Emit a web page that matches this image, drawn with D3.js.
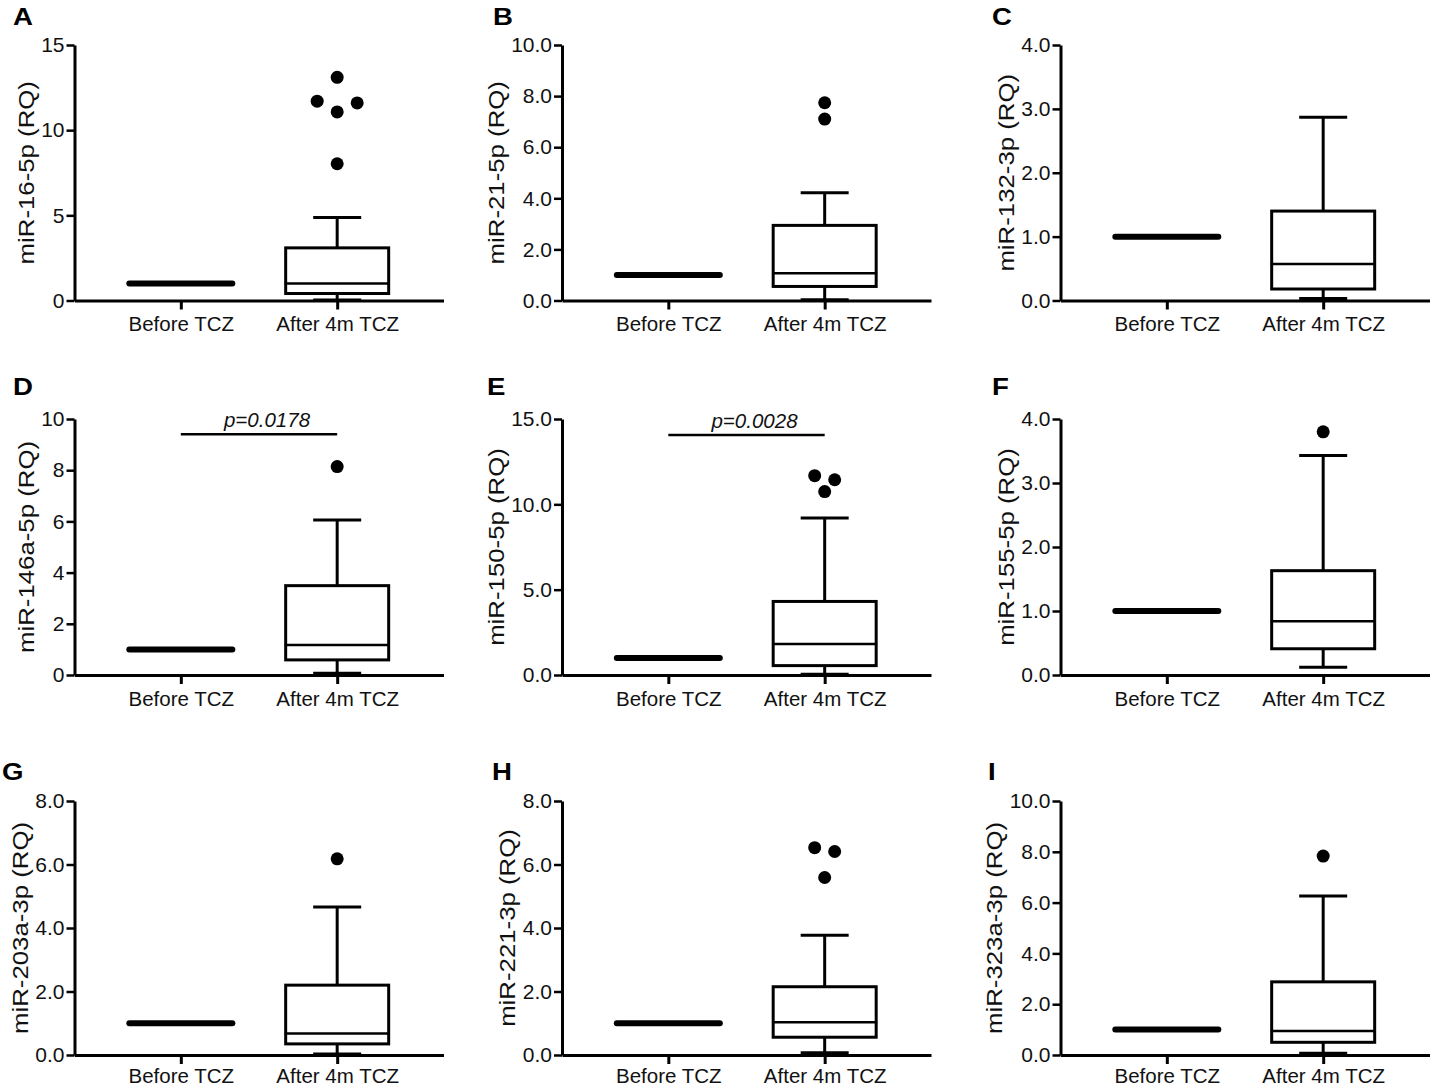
<!DOCTYPE html>
<html lang="en">
<head>
<meta charset="UTF-8">
<script src="https://cdn.jsdelivr.net/npm/d3@7"></script>
<title>miRNA RQ before and after TCZ</title>
<style>
    html, body {
        margin: 0px;
        padding: 0px;
        background-color: #ffffff;
    }
    svg {
        display: block;
        font-family: "Liberation Sans", Arial, sans-serif;
    }
</style>
</head>
<body>
<svg id="chart" width="1430" height="1087"></svg>
<script>
    const groups = ['Before TCZ', 'After 4m TCZ'];
    const panelLetters = ['A', 'B', 'C', 'D', 'E', 'F', 'G', 'H', 'I'];
    const mirNames = ['miR-16-5p', 'miR-21-5p', 'miR-132-3p', 'miR-146a-5p', 'miR-150-5p',
        'miR-155-5p', 'miR-203a-3p', 'miR-221-3p', 'miR-323a-3p'];
    const yMax = [15, 10, 4, 10, 15, 4, 8, 8, 10];
    const yStep = [5, 2, 1, 2, 5, 1, 2, 2, 2];
    const yDecimals = [0, 1, 1, 0, 1, 1, 1, 1, 1];

    // before TCZ is the calibrator, so every sample sits at RQ = 1
    const beforeRQ = [1, 1, 1, 1, 1, 1, 1, 1, 1];

    // after 4m TCZ, Tukey boxes
    const afterLow    = [0.03, 0.03, 0.03, 0.07, 0.05, 0.12, 0.03, 0.07, 0.07];
    const afterQ1     = [0.41, 0.55, 0.18, 0.59, 0.55, 0.41, 0.35, 0.56, 0.50];
    const afterMedian = [1.00, 1.07, 0.57, 1.17, 1.81, 0.84, 0.68, 1.03, 0.94];
    const afterQ3     = [3.09, 2.94, 1.40, 3.49, 4.31, 1.63, 2.20, 2.15, 2.88];
    const afterHigh   = [4.88, 4.22, 2.87, 6.05, 9.20, 3.43, 4.66, 3.77, 6.26];
    const afterOutliers = [
        [13.1, 11.7, 11.6, 11.07, 8.03],
        [7.74, 7.10],
        [],
        [8.14],
        [11.68, 11.44, 10.75],
        [3.80],
        [6.18],
        [6.53, 6.41, 5.59],
        [7.83]
    ];
    const pLabels = [null, null, null, 'p=0.0178', 'p=0.0028', null, null, null, null];
    const pBarAt  = [null, null, null, 9.4, 14.06, null, null, null, null];

    // grid layout
    const colAxisX = [74.5, 562, 1060.5];
    const rowTop = [45, 419, 801];
    const rowZero = [300.5, 675, 1055];
    const rowLabelPad = [7, 7, 4];
    const xAxisLen = 369;
    const letterX = [13, 493, 992, 13, 487, 992, 2, 492, 988];
    const letterY = [25, 395, 780];

    const boxW = 103, capW = 48, dotR = 6.5;

    const svg = d3.select('#chart');

    // spread outliers that share a row sideways (lowest right, next left)
    function swarm(values, y) {
        const sorted = values.slice().sort((a, b) => a - b);
        const placed = [];
        let i = 0;
        while (i < sorted.length) {
            const row = [sorted[i]];
            while (i + row.length < sorted.length &&
                   Math.abs(y(sorted[i + row.length]) - y(row[0])) < 6) {
                row.push(sorted[i + row.length]);
            }
            const pattern = row.length === 1 ? [0] :
                row.length === 2 ? [0.5, -0.5] : [0, 1, -1];
            let s = 20;
            let cand;
            while (true) {
                cand = row.map((v, k) => ({v: v, dx: pattern[k] * s}));
                const hit = cand.some(c => placed.some(p =>
                    Math.hypot(c.dx - p.dx, y(c.v) - y(p.v)) < 14.5));
                if (!hit || s > 100) break;
                s += 20;
            }
            placed.push(...cand);
            i += row.length;
        }
        return placed;
    }

    panelLetters.forEach((letter, i) => {
        const col = i % 3, row = Math.floor(i / 3);
        const ax = colAxisX[col];
        const top = rowTop[row], zero = rowZero[row];

        const y = d3.scaleLinear().domain([0, yMax[i]]).range([zero, top]);
        const x = d3.scalePoint().domain(groups).range([ax, ax + xAxisLen]).padding(0.68);

        const g = svg.append('g');

        // panel letter
        g.append('text')
            .attr('x', letterX[i])
            .attr('y', letterY[row])
            .attr('font-size', 23)
            .attr('font-weight', 'bold')
            .attr('fill', '#000')
            .attr('transform', `translate(${letterX[i]},0) scale(1.2,1) translate(${-letterX[i]},0)`)
            .text(letter);

        // y axis
        const yAxis = g.append('g')
            .attr('transform', `translate(${ax},0)`)
            .call(d3.axisLeft(y)
                .tickValues(d3.range(0, yMax[i] + 0.001, yStep[i]))
                .tickFormat(d3.format(`.${yDecimals[i]}f`))
                .tickSize(8)
                .tickSizeOuter(0)
                .tickPadding(2));
        yAxis.select('.domain').attr('stroke-width', 3);
        yAxis.selectAll('.tick line').attr('stroke-width', 2.5);
        yAxis.selectAll('.tick text')
            .attr('font-size', 21)
            .attr('font-family', '"Liberation Sans", Arial, sans-serif')
            .attr('fill', '#111');

        // x axis
        const xAxis = g.append('g')
            .attr('transform', `translate(0,${zero})`)
            .call(d3.axisBottom(x)
                .tickSize(9)
                .tickSizeOuter(0)
                .tickPadding(rowLabelPad[row]));
        xAxis.select('.domain').attr('stroke-width', 3);
        xAxis.selectAll('.tick line').attr('stroke-width', 3);
        xAxis.selectAll('.tick text')
            .attr('font-size', 20.5)
            .attr('font-family', '"Liberation Sans", Arial, sans-serif')
            .attr('fill', '#111');

        // y axis title, placed left of the widest tick label
        const tb = yAxis.node().getBBox();
        const labX = ax + tb.x - 15;
        g.append('text')
            .attr('transform', `translate(${labX},${(top + zero) / 2}) rotate(-90) scale(1.2,1)`)
            .attr('text-anchor', 'middle')
            .attr('dy', '0.35em')
            .attr('font-size', 21.5)
            .attr('fill', '#111')
            .text(`${mirNames[i]} (RQ)`);

        // before: all samples at the calibrator value -> flat box
        const bx = x(groups[0]);
        g.append('line')
            .attr('x1', bx - boxW / 2).attr('x2', bx + boxW / 2)
            .attr('y1', y(beforeRQ[i])).attr('y2', y(beforeRQ[i]))
            .attr('stroke', '#000')
            .attr('stroke-width', 6)
            .attr('stroke-linecap', 'round');

        // after: whiskers, box, median
        const cx = x(groups[1]);
        function line(x1, y1, x2, y2, w) {
            g.append('line')
                .attr('x1', x1).attr('y1', y1).attr('x2', x2).attr('y2', y2)
                .attr('stroke', '#000')
                .attr('stroke-width', w || 3);
        }
        line(cx, y(afterQ3[i]), cx, y(afterHigh[i]));
        line(cx - capW / 2, y(afterHigh[i]), cx + capW / 2, y(afterHigh[i]));
        line(cx, y(afterQ1[i]), cx, y(afterLow[i]));
        line(cx - capW / 2, y(afterLow[i]), cx + capW / 2, y(afterLow[i]));
        g.append('rect')
            .attr('x', cx - boxW / 2)
            .attr('y', y(afterQ3[i]))
            .attr('width', boxW)
            .attr('height', y(afterQ1[i]) - y(afterQ3[i]))
            .attr('fill', '#fff')
            .attr('stroke', '#000')
            .attr('stroke-width', 3);
        line(cx - boxW / 2 - 1, y(afterMedian[i]), cx + boxW / 2 + 1, y(afterMedian[i]), 2.5);

        // outliers
        g.selectAll('circle.out')
            .data(swarm(afterOutliers[i], y))
            .join('circle')
            .attr('class', 'out')
            .attr('cx', d => cx + d.dx)
            .attr('cy', d => y(d.v))
            .attr('r', dotR)
            .attr('fill', '#000');

        // significance bar
        if (pLabels[i]) {
            const py = y(pBarAt[i]);
            line(bx, py, cx, py, 2.5);
            g.append('text')
                .attr('x', (bx + cx) / 2 + 8)
                .attr('y', py - 7)
                .attr('text-anchor', 'middle')
                .attr('font-size', 20.5)
                .attr('font-style', 'italic')
                .attr('fill', '#111')
                .text(pLabels[i]);
        }
    });
</script>
</body>
</html>
